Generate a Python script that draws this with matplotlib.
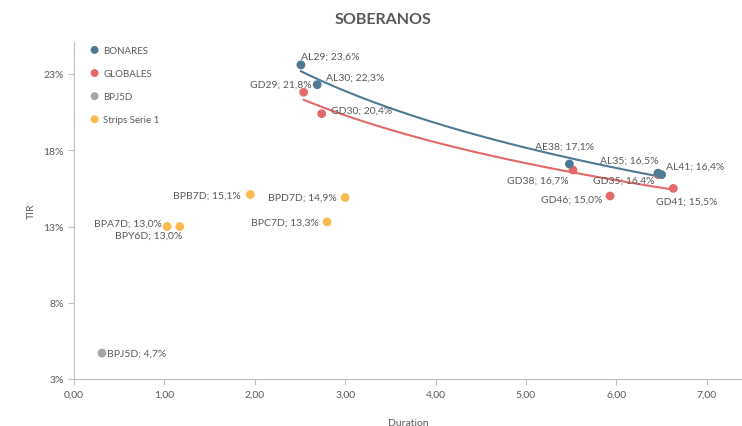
import numpy as np
import matplotlib
matplotlib.use("Agg")
import matplotlib.pyplot as plt

# Data
bonares_names = ["AL29", "AL30", "AE38", "AL35", "AL41"]
bonares_dur = [2.51, 2.69, 5.48, 6.46, 6.50]
bonares_tir = [23.6, 22.3, 17.1, 16.5, 16.4]

globales_names = ["GD29", "GD30", "GD38", "GD35", "GD41", "GD46"]
globales_dur = [2.54, 2.74, 5.52, 6.46, 6.63, 5.93]
globales_tir = [21.8, 20.4, 16.7, 16.4, 15.5, 15.0]

bpj_names = ["BPJ5D"]
bpj_dur = [0.31]
bpj_tir = [4.7]

strips_names = ["BPB7D", "BPD7D", "BPC7D", "BPA7D", "BPY6D"]
strips_dur = [1.95, 3.00, 2.80, 1.03, 1.17]
strips_tir = [15.1, 14.9, 13.3, 13.0, 13.0]

xticks = [0, 1, 2, 3, 4, 5, 6, 7]
yticks = [3, 8, 13, 18, 23]

c_blue = "#4F7A94"
c_red = "#E46A6A"
c_gray = "#A6A6A6"
c_orange = "#FDBA50"
txt = "#595959"

plt.rcParams['font.family'] = ['Lato', 'DejaVu Sans']

fig = plt.figure(figsize=(7.42, 4.27), dpi=100)
ax = fig.add_axes([74/742, 1-380/427, (742-74)/742, (380-43)/427])
ax.set_xlim(0, (742-74)/90.4)
ax.set_ylim(3, 3 + (380-43)/15.25)

def fmt(v):
    return f"{v:.1f}".replace(".", ",")

# trend lines (log fits)
for xs, ys, c in [(bonares_dur, bonares_tir, c_blue), (globales_dur, globales_tir, c_red)]:
    xs = np.array(xs); ys = np.array(ys)
    a, b = np.polyfit(np.log(xs), ys, 1)
    xx = np.linspace(xs.min(), xs.max(), 100)
    ax.plot(xx, a*np.log(xx)+b, color=c, lw=1.5, zorder=2)

ms = 40
ax.scatter(bonares_dur, bonares_tir, s=ms, color=c_blue, zorder=4, label="BONARES", edgecolors='none')
ax.scatter(globales_dur, globales_tir, s=ms, color=c_red, zorder=3, label="GLOBALES", edgecolors='none')
ax.scatter(bpj_dur, bpj_tir, s=ms, color=c_gray, zorder=3, label="BPJ5D", edgecolors='none')
ax.scatter(strips_dur, strips_tir, s=ms, color=c_orange, zorder=3, label="Strips Serie 1", edgecolors='none')

# label offsets in pixels (dx, dy, ha)
offsets = {
    "AL29": (0, 9, "left"), "AL30": (9, 7, "left"), "AE38": (-34, 18, "left"),
    "AL35": (-58, 13, "left"), "AL41": (4, 8, "left"),
    "GD29": (-54, 8, "left"), "GD30": (9, 3, "left"), "GD38": (-66, -10, "left"),
    "GD35": (-65, -6, "left"), "GD41": (-17, -13, "left"), "GD46": (-69, -3, "left"),
    "BPJ5D": (5, 0, "left"), "BPB7D": (-77, -1, "left"), "BPD7D": (-77, 0, "left"),
    "BPC7D": (-76, 0, "left"), "BPA7D": (-73, 3, "left"), "BPY6D": (-65, -9, "left"),
}
for names, xs, ys in [(bonares_names, bonares_dur, bonares_tir),
                      (globales_names, globales_dur, globales_tir),
                      (bpj_names, bpj_dur, bpj_tir),
                      (strips_names, strips_dur, strips_tir)]:
    for n, x, y in zip(names, xs, ys):
        dx, dy, ha = offsets[n]
        ax.annotate(f"{n}; {fmt(y)}%", (x, y), xytext=(dx, dy), textcoords="offset pixels",
                    ha=ha, va="center", fontsize=7.5, color=txt, zorder=5)

ax.set_xticks(xticks)
ax.set_xticklabels([f"{v:.2f}".replace(".", ",") for v in xticks])
ax.set_yticks(yticks)
ax.set_yticklabels([f"{v}%" for v in yticks])
ax.tick_params(colors=txt, labelsize=7.5, length=4, color="#BFBFBF")
for s in ["top", "right"]:
    ax.spines[s].set_visible(False)
for s in ["left", "bottom"]:
    ax.spines[s].set_color("#BFBFBF")

ax.set_xlabel("Duration", fontsize=7.5, color=txt, labelpad=14)
ax.set_ylabel("TIR", fontsize=7.5, color=txt, labelpad=5)
fig.text(383/742, 1-20/427, "SOBERANOS", ha="center", va="center", fontsize=11.5,
         fontweight="bold", color=txt)

leg = ax.legend(loc="upper left", bbox_to_anchor=(0.009, 1.004), frameon=False, fontsize=7,
                handletextpad=-0.1, labelspacing=1.45, markerscale=0.9, borderaxespad=0.1)
for t in leg.get_texts():
    t.set_color(txt)

fig.savefig("out.png", dpi=100)
